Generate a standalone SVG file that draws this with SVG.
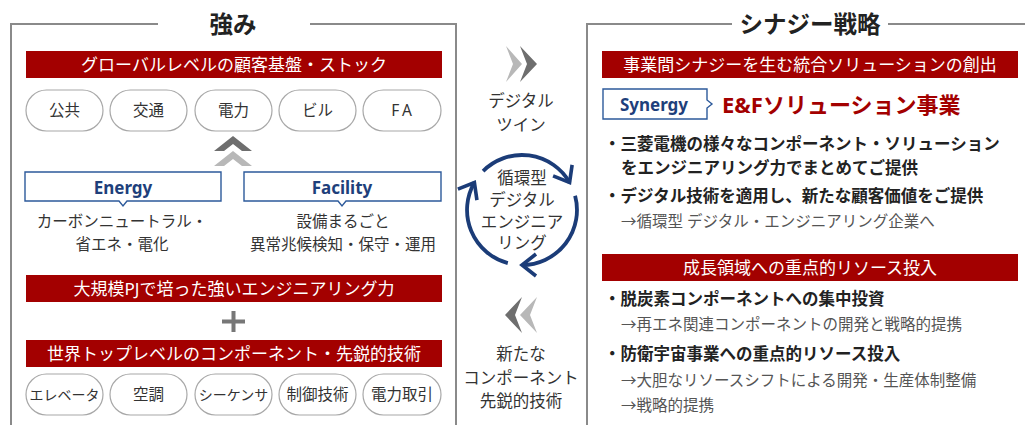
<svg xmlns="http://www.w3.org/2000/svg" width="1025" height="425" viewBox="0 0 1025 425">
<defs>
<style>
text{font-family:"Noto Sans","Noto Sans CJK JP",sans-serif;}
.frame{fill:none;stroke:#8a8a8a;stroke-width:2;}
.title{font-size:23.5px;font-weight:700;fill:#222;text-anchor:middle;}
.bar{fill:#a30000;}
.bartxt{font-size:17px;fill:#fff;text-anchor:middle;}
.pill{fill:#fff;stroke:#a8a8a8;stroke-width:1.2;}
.pilltxt{font-size:15.5px;fill:#333;text-anchor:middle;}
.small{font-size:14px;}
.tag{fill:#fff;stroke:#2d5a9b;stroke-width:1.4;}
.tagtxt{font-size:17px;font-weight:700;fill:#1e3f7b;text-anchor:middle;}
.body{font-size:15.5px;fill:#333;text-anchor:middle;}
.mid{font-size:16.5px;fill:#333;text-anchor:middle;}
.blt{font-size:16.5px;font-weight:700;fill:#222;}
.sub{font-size:15.5px;fill:#555;}
.cyc{fill:none;stroke:#1b3c78;stroke-width:3.8;}
.dk{fill:#6e6e6e;}
.lt{fill:#b8b8b8;}
</style>
<marker id="head" viewBox="0 0 22 26" refX="18" refY="13" markerWidth="22" markerHeight="26" markerUnits="userSpaceOnUse" orient="auto">
<path d="M4,2 L18,13 L4,24" fill="none" stroke="#1b3c78" stroke-width="3.6"/>
</marker>
</defs>

<g id="frames">
<path class="frame" d="M158,24 H11 V425 M310,24 H456 V425"/>
<path class="frame" d="M732,24 H587 V425 M888,24 H1025"/>
<text class="title" x="233" y="33">強み</text>
<text class="title" x="810" y="33">シナジー戦略</text>
</g>

<g id="bar-customer">
<rect class="bar" x="26" y="51" width="416" height="27"/>
<text class="bartxt" x="234" y="70.5">グローバルレベルの顧客基盤・ストック</text>
</g>

<g id="pills-top">
<rect class="pill" x="26" y="90" width="77" height="41" rx="20.5"/>
<text class="pilltxt" x="64.5" y="116">公共</text>
<rect class="pill" x="110" y="90" width="77" height="41" rx="20.5"/>
<text class="pilltxt" x="148.5" y="116">交通</text>
<rect class="pill" x="195" y="90" width="77" height="41" rx="20.5"/>
<text class="pilltxt" x="233.5" y="116">電力</text>
<rect class="pill" x="279" y="90" width="77" height="41" rx="20.5"/>
<text class="pilltxt" x="317.5" y="116">ビル</text>
<rect class="pill" x="363" y="90" width="78" height="41" rx="20.5"/>
<text class="pilltxt" x="403" y="116" letter-spacing="3">FA</text>
</g>

<g id="up-chevrons">
<polygon class="dk" points="214,151 233,136 252,151 242,151 233,144 224,151"/>
<polygon class="lt" points="214,166 233,151 252,166 242,166 233,159 224,166"/>
</g>

<g id="energy">
<path class="tag" d="M25,172 H221 V201 H127 L123,206 L119,201 H25 Z"/>
<text class="tagtxt" x="123" y="194">Energy</text>
<text class="body" x="122" y="227">カーボンニュートラル・</text>
<text class="body" x="122" y="250">省エネ・電化</text>
</g>

<g id="facility">
<path class="tag" d="M244,172 H441 V201 H346 L342,206 L338,201 H244 Z"/>
<text class="tagtxt" x="342" y="194">Facility</text>
<text class="body" x="343" y="227">設備まるごと</text>
<text class="body" x="343" y="250">異常兆候検知・保守・運用</text>
</g>

<g id="bar-engineering">
<rect class="bar" x="26" y="275" width="416" height="27"/>
<text class="bartxt" x="234" y="294.5">大規模PJで培った強いエンジニアリング力</text>
</g>

<g id="plus">
<path d="M222,321.5 H245 M233.5,311 V332" stroke="#777" stroke-width="4" fill="none"/>
</g>

<g id="bar-component">
<rect class="bar" x="26" y="340" width="416" height="27"/>
<text class="bartxt" x="234" y="359.5">世界トップレベルのコンポーネント・先鋭的技術</text>
</g>

<g id="pills-bottom">
<rect class="pill" x="26" y="374" width="77" height="41" rx="20.5"/>
<text class="pilltxt small" x="64.5" y="399.5">エレベータ</text>
<rect class="pill" x="110" y="374" width="77" height="41" rx="20.5"/>
<text class="pilltxt" x="148.5" y="400">空調</text>
<rect class="pill" x="195" y="374" width="77" height="41" rx="20.5"/>
<text class="pilltxt small" x="233.5" y="399.5">シーケンサ</text>
<rect class="pill" x="279" y="374" width="77" height="41" rx="20.5"/>
<text class="pilltxt" x="317.5" y="400">制御技術</text>
<rect class="pill" x="363" y="374" width="78" height="41" rx="20.5"/>
<text class="pilltxt" x="402" y="400">電力取引</text>
</g>

<g id="digital-twin">
<polygon class="lt" points="506,46 522,64 506,82 513,64"/>
<polygon class="dk" points="520,46 537,64 520,82 527,64"/>
<text class="mid" x="521" y="107">デジタル</text>
<text class="mid" x="521" y="131">ツイン</text>
</g>

<g id="cycle-label">
<text class="mid" x="522" y="184">循環型</text>
<text class="mid" x="522" y="206">デジタル</text>
<text class="mid" x="522" y="228">エンジニア</text>
<text class="mid" x="522" y="249">リング</text>
</g>

<g id="connectors">
<path class="cyc" d="M483.1,171.1 A55,55 0 0 1 569.6,182.5" marker-end="url(#head)"/>
<path class="cyc" d="M575.1,195.8 A55,55 0 0 1 522,265" marker-end="url(#head)"/>
<path class="cyc" d="M507.8,263.1 A55,55 0 0 1 474.4,182.5" marker-end="url(#head)"/>
</g>

<g id="new-component">
<polygon class="dk" points="522,297 505,315 522,333 515,315"/>
<polygon class="lt" points="537,297 520,315 537,333 530,315"/>
<text class="mid" x="521" y="360">新たな</text>
<text class="mid" x="521" y="384">コンポーネント</text>
<text class="mid" x="521" y="407">先鋭的技術</text>
</g>

<g id="bar-synergy">
<rect class="bar" x="602" y="51" width="416" height="27"/>
<text class="bartxt" x="810" y="70.5">事業間シナジーを生む統合ソリューションの創出</text>
</g>

<g id="synergy">
<path class="tag" d="M603,89 H707 V100 L712,104 L707,108 V119 H603 Z"/>
<text class="tagtxt" x="654" y="111" font-size="18">Synergy</text>
<text x="722" y="113" font-size="22" font-weight="700" fill="#a30000">E&amp;Fソリューション事業</text>
</g>

<g id="synergy-points">
<text class="blt" x="604" y="150">・三菱電機の様々なコンポーネント・ソリューション</text>
<text class="blt" x="621" y="174">をエンジニアリング力でまとめてご提供</text>
<text class="blt" x="604" y="202">・デジタル技術を適用し、新たな顧客価値をご提供</text>
<text class="sub" x="621" y="227">→循環型 デジタル・エンジニアリング企業へ</text>
</g>

<g id="bar-growth">
<rect class="bar" x="602" y="254" width="416" height="27"/>
<text class="bartxt" x="810" y="273.5">成長領域への重点的リソース投入</text>
</g>

<g id="growth-points">
<text class="blt" x="604" y="305">・脱炭素コンポーネントへの集中投資</text>
<text class="sub" x="621" y="330">→再エネ関連コンポーネントの開発と戦略的提携</text>
<text class="blt" x="604" y="360">・防衛宇宙事業への重点的リソース投入</text>
<text class="sub" x="621" y="386">→大胆なリソースシフトによる開発・生産体制整備</text>
<text class="sub" x="621" y="411">→戦略的提携</text>
</g>
</svg>
